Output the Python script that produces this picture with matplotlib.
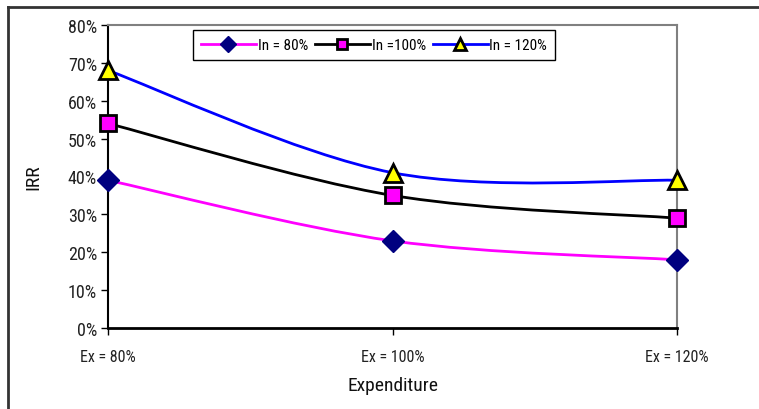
import matplotlib.pyplot as plt
from matplotlib.path import Path
from matplotlib.patches import PathPatch
from matplotlib.lines import Line2D
from matplotlib.ticker import PercentFormatter

plt.rcParams['font.family'] = ['Roboto Condensed', 'DejaVu Sans']

# IRR (%) for each income scenario across expenditure levels
categories = ["Ex = 80%", "Ex = 100%", "Ex = 120%"]
irr_in80 = [39, 23, 18]
irr_in100 = [54, 35, 29]
irr_in120 = [68, 41, 39]


def smooth_path(xs, ys, t=1/6):
    # Catmull-Rom style Bezier smoothing, like spreadsheet "smoothed line"
    n = len(xs)
    verts = [(xs[0], ys[0])]
    codes = [Path.MOVETO]
    for i in range(n - 1):
        p0 = (xs[max(i - 1, 0)], ys[max(i - 1, 0)])
        p1 = (xs[i], ys[i])
        p2 = (xs[i + 1], ys[i + 1])
        p3 = (xs[min(i + 2, n - 1)], ys[min(i + 2, n - 1)])
        c1 = (p1[0] + (p2[0] - p0[0]) * t, p1[1] + (p2[1] - p0[1]) * t)
        c2 = (p2[0] - (p3[0] - p1[0]) * t, p2[1] - (p3[1] - p1[1]) * t)
        verts += [c1, c2, p2]
        codes += [Path.CURVE4] * 3
    return Path(verts, codes)


fig = plt.figure(figsize=(7.59, 4.10), dpi=100)
ax = fig.add_axes([0.1423, 0.1976, 0.7497, 0.739])

x = list(range(len(categories)))
series = [
    ("In = 80%", irr_in80, "#ff00ff", dict(marker="D", ms=11, mfc="#000080", mec="#000080", mew=1)),
    ("In =100%", irr_in100, "black", dict(marker="s", ms=11, mfc="#ff00ff", mec="black", mew=2)),
    ("In = 120%", irr_in120, "#0000ff", dict(marker="^", ms=12.5, mfc="#ffff00", mec="black", mew=2)),
]

handles = []
for label, vals, col, mk in series:
    ax.add_patch(PathPatch(smooth_path(x, vals), fill=False, edgecolor=col, lw=2, zorder=3,
                           clip_on=False))
    ax.plot(x, vals, linestyle="none", zorder=4, clip_on=False, **mk)
    handles.append(Line2D([], [], color=col, lw=2, **mk))

ax.set_xlim(0, 2)
ax.set_ylim(0, 80)
ax.set_yticks(range(0, 81, 10))
ax.yaxis.set_major_formatter(PercentFormatter(decimals=0))
ax.set_xticks(x)
ax.set_xticklabels(categories, fontsize=11.5)
ax.tick_params(axis="y", labelsize=13, length=5, width=1, pad=3, labelcolor="#222222")
ax.tick_params(axis="x", length=5, width=1, pad=10, labelcolor="#222222")

ax.spines["left"].set_linewidth(1.5)
ax.spines["bottom"].set_linewidth(2)
for s in ("top", "right"):
    ax.spines[s].set_color("#808080")
    ax.spines[s].set_linewidth(1.5)

ax.set_ylabel("IRR", fontsize=14, labelpad=18, color="#111111")
ax.set_xlabel("Expenditure", fontsize=14, labelpad=9, color="#111111")

leg = ax.legend(handles=handles, labels=[s[0] for s in series], ncol=3, loc="upper center",
                bbox_to_anchor=(0.4675, 0.982), fontsize=11, handlelength=3.6,
                columnspacing=0.45, handletextpad=0.12, borderpad=0.5, borderaxespad=0,
                fancybox=False, edgecolor="black", framealpha=1)
leg.get_frame().set_linewidth(1)
for ln in leg.get_lines():
    ln.set_markersize(ln.get_markersize() * 0.7)

# outer chart frame (top and left edges)
fig.add_artist(Line2D([0.0099, 0.0099], [0, 0.981], color="#333333", lw=2))
fig.add_artist(Line2D([0.0099, 1], [0.981, 0.981], color="#333333", lw=2))

fig.savefig("out.png", dpi=100)
